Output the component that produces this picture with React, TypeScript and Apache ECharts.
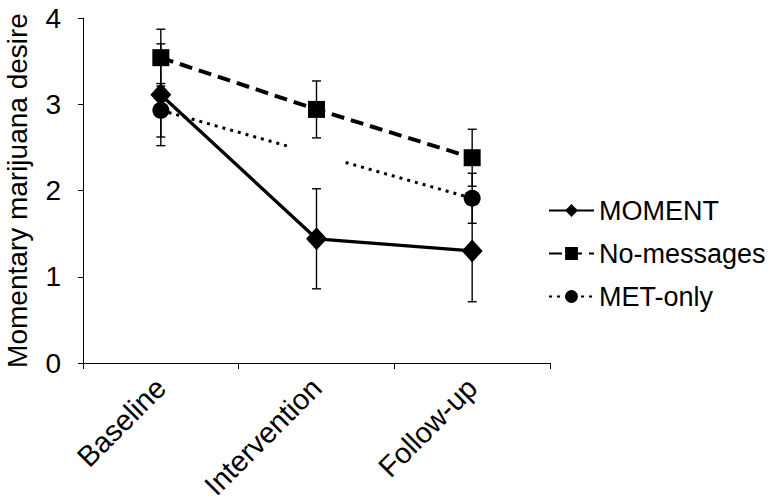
import React, { useEffect, useRef } from "react";
import * as echarts from "echarts";

const categories = ["Baseline", "Intervention", "Follow-up"];
const yTicks = [0, 1, 2, 3, 4];
const momentValues = [3.11, 1.44, 1.3];
const momentErr = [0.59, 0.58, 0.59];
const noMsgValues = [3.54, 2.94, 2.38];
const noMsgErr = [0.33, 0.33, 0.33];
const metValues = [2.93, 2.42, 1.91];
const metErr: (number | null)[] = [0.31, null, 0.29];

const FONT = "'Liberation Sans', Arial, Helvetica, sans-serif";

function errData(vals: number[], errs: (number | null)[]) {
  const out: number[][] = [];
  vals.forEach((v, i) => {
    const e = errs[i];
    if (e != null) out.push([i, v - e, v + e]);
  });
  return out;
}

const renderErr = (params: any, api: any) => {
  const x = api.value(0);
  const lo = api.coord([x, api.value(1)]);
  const hi = api.coord([x, api.value(2)]);
  const w = 4.5;
  const st = { stroke: "#000", lineWidth: 1.4 };
  return {
    type: "group",
    children: [
      { type: "line", shape: { x1: lo[0], y1: lo[1], x2: hi[0], y2: hi[1] }, style: st },
      { type: "line", shape: { x1: lo[0] - w, y1: lo[1], x2: lo[0] + w, y2: lo[1] }, style: st },
      { type: "line", shape: { x1: hi[0] - w, y1: hi[1], x2: hi[0] + w, y2: hi[1] }, style: st },
    ],
  };
};

export default function App() {
  const ref = useRef<HTMLDivElement>(null);
  useEffect(() => {
    document.body.style.margin = "0";
    const chart = echarts.init(ref.current!, null, { renderer: "svg" });
    chart.setOption({
      animation: false,
      backgroundColor: "#fff",
      textStyle: { fontFamily: FONT, color: "#000" },
      grid: { left: 83, top: 18, right: 228, bottom: 141, containLabel: false, outerBoundsMode: "none" },
      legend: {
        orient: "vertical",
        left: 548,
        top: 197,
        padding: 0,
        itemWidth: 45,
        itemHeight: 16,
        itemGap: 16,
        data: ["MOMENT", "No-messages", "MET-only"],
        textStyle: { fontSize: 27, color: "#000", fontFamily: FONT },
      },
      xAxis: {
        type: "category",
        data: categories,
        boundaryGap: true,
        axisLine: { lineStyle: { color: "#000", width: 1 } },
        axisTick: { show: true, length: 6, alignWithLabel: false, lineStyle: { color: "#000" } },
        axisLabel: { rotate: 45, fontSize: 29, color: "#000", margin: 20, fontFamily: FONT },
      },
      yAxis: {
        type: "value",
        min: yTicks[0],
        max: yTicks[yTicks.length - 1],
        interval: 1,
        name: "Momentary marijuana desire",
        nameLocation: "middle",
        nameGap: 52,
        nameTextStyle: { fontSize: 28, color: "#000", fontFamily: FONT },
        splitLine: { show: false },
        axisLine: { show: true, lineStyle: { color: "#000", width: 1 } },
        axisTick: { show: true, length: 5, lineStyle: { color: "#000" } },
        axisLabel: { fontSize: 28, color: "#000", margin: 22, fontFamily: FONT },
      },
      series: [
        {
          name: "MET-only",
          type: "line",
          z: 2,
          data: [
            metValues[0],
            { value: metValues[1], symbol: "circle", symbolSize: 54, itemStyle: { color: "#fff", borderWidth: 0 } },
            metValues[2],
          ],
          symbol: "circle",
          symbolSize: 17,
          itemStyle: { color: "#000" },
          lineStyle: { color: "#000", width: 3, type: [3, 5] },
        },
        {
          name: "No-messages",
          type: "line",
          z: 3,
          data: noMsgValues,
          symbol: "rect",
          symbolSize: 17,
          itemStyle: { color: "#000" },
          lineStyle: { color: "#000", width: 4, type: [13, 7] },
        },
        {
          name: "MOMENT",
          type: "line",
          z: 4,
          data: momentValues,
          symbol: "diamond",
          symbolSize: [21, 23],
          itemStyle: { color: "#000" },
          lineStyle: { color: "#000", width: 3.3 },
        },
        {
          type: "custom",
          z: 5,
          renderItem: renderErr,
          encode: { x: 0, y: [1, 2] },
          data: errData(metValues, metErr),
        },
        {
          type: "custom",
          z: 5,
          renderItem: renderErr,
          encode: { x: 0, y: [1, 2] },
          data: errData(noMsgValues, noMsgErr),
        },
        {
          type: "custom",
          z: 5,
          renderItem: renderErr,
          encode: { x: 0, y: [1, 2] },
          data: errData(momentValues, momentErr),
        },
      ],
    });
    return () => chart.dispose();
  }, []);
  return <div ref={ref} style={{ width: 778, height: 504 }} />;
}
